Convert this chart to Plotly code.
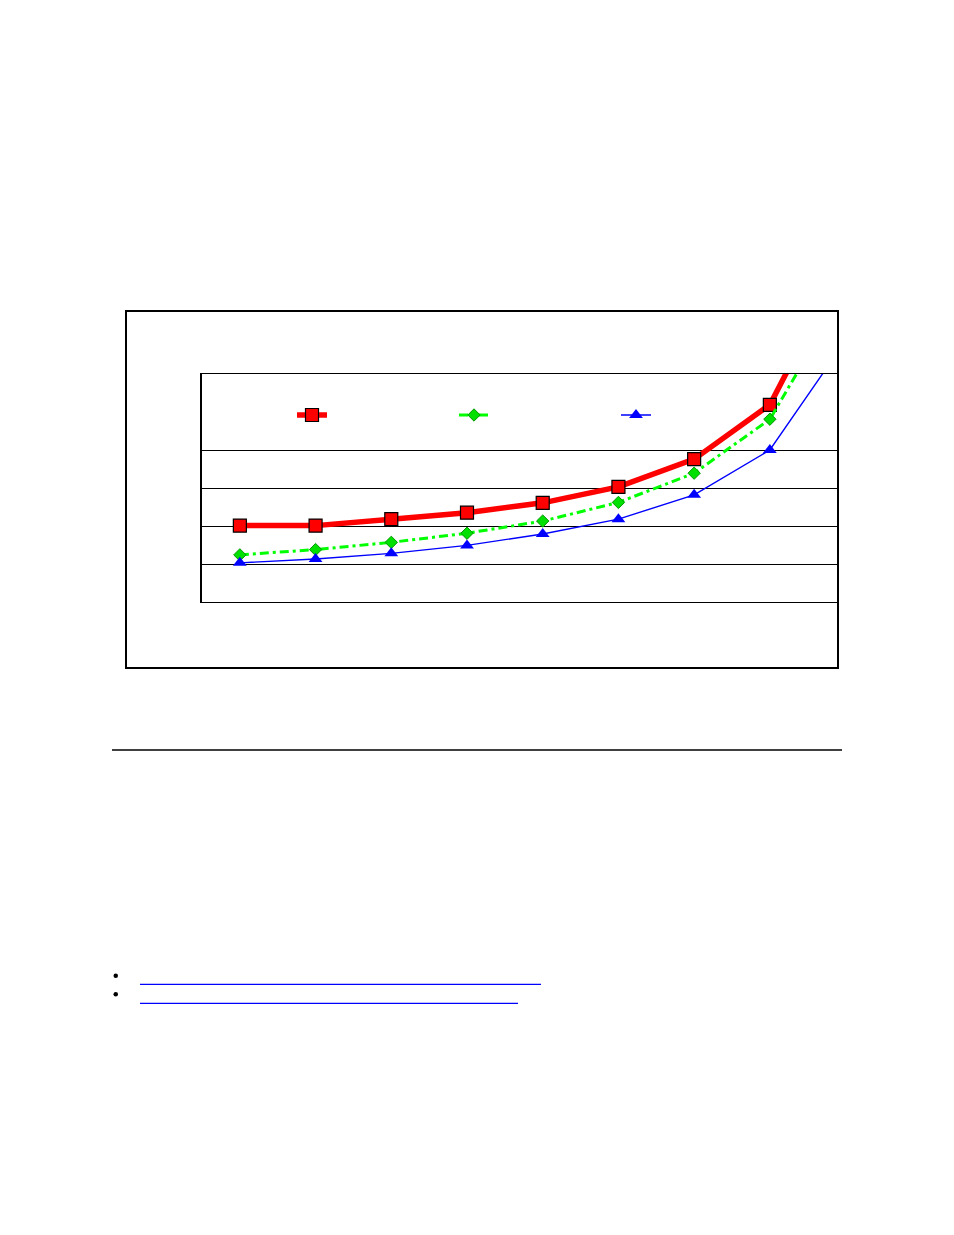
import plotly.graph_objects as go

W, H = 954, 1235
OFF = 8  # browser page margin

# ---- data (y units = gridline steps) ----
categories = [0, 1, 2, 3, 4, 5, 6, 7, 8]
series_a = [2.01, 2.01, 2.18, 2.35, 2.61, 3.03, 3.76, 5.19, 9.03]
series_b = [1.24, 1.38, 1.57, 1.81, 2.13, 2.62, 3.39, 4.81, 8.20]
series_c = [1.03, 1.13, 1.28, 1.49, 1.79, 2.18, 2.82, 4.00, 6.88]
grid_vals = [1, 2, 3, 4, 6]


def px_x(p):
    return (p - OFF) / W


def px_y(p):
    return 1 - (p - OFF) / H


fig = go.Figure()
fig.add_trace(go.Scatter(
    x=categories, y=series_a, mode="lines+markers", name=" ",
    line=dict(color="#FF0000", width=5.5),
    marker=dict(symbol="square", size=13, color="#FF0000",
                line=dict(color="#000000", width=1.2)),
))
fig.add_trace(go.Scatter(
    x=categories, y=series_b, mode="lines+markers", name=" ",
    line=dict(color="#00FF00", width=3, dash="9px,4px,3px,4px"),
    marker=dict(symbol="diamond", size=9.5, color="#00E000",
                line=dict(color="#009900", width=1)),
))
fig.add_trace(go.Scatter(
    x=categories, y=series_c, mode="lines+markers", name=" ",
    line=dict(color="#0000FF", width=1.4),
    marker=dict(symbol="triangle-up", size=12, color="#0000FF",
                line=dict(width=0)),
))

shapes = [
    # outer chart box
    dict(type="rect", xref="paper", yref="paper",
         x0=px_x(126), x1=px_x(838), y0=px_y(668), y1=px_y(311),
         line=dict(color="#000000", width=2), layer="above"),
    # horizontal rule below chart
    dict(type="line", xref="paper", yref="paper",
         x0=px_x(112), x1=px_x(842), y0=px_y(750), y1=px_y(750),
         line=dict(color="#000000", width=1.6)),
    # bullets
    dict(type="circle", xref="paper", yref="paper",
         x0=px_x(113.5), x1=px_x(118), y0=px_y(978), y1=px_y(973.5),
         fillcolor="#000000", line=dict(width=0)),
    dict(type="circle", xref="paper", yref="paper",
         x0=px_x(113.5), x1=px_x(118), y0=px_y(996.5), y1=px_y(992),
         fillcolor="#000000", line=dict(width=0)),
    # link underlines
    dict(type="line", xref="paper", yref="paper",
         x0=px_x(140), x1=px_x(541), y0=px_y(984.3), y1=px_y(984.3),
         line=dict(color="#0000FF", width=1.2)),
    dict(type="line", xref="paper", yref="paper",
         x0=px_x(140), x1=px_x(518), y0=px_y(1003.3), y1=px_y(1003.3),
         line=dict(color="#0000FF", width=1.2)),
]

fig.update_layout(
    width=W, height=H,
    margin=dict(l=0, r=0, t=0, b=0),
    paper_bgcolor="#FFFFFF", plot_bgcolor="#FFFFFF",
    font=dict(family="Liberation Sans, Arial, sans-serif", size=12, color="#000000"),
    showlegend=True,
    legend=dict(orientation="h", x=px_x(292), y=px_y(415), xanchor="left",
                yanchor="middle", bgcolor="rgba(0,0,0,0)",
                entrywidth=117, entrywidthmode="pixels",
                font=dict(size=12)),
    shapes=shapes,
    xaxis=dict(domain=[px_x(202), px_x(838)], range=[-0.5, 7.9],
               showgrid=False, zeroline=False, showticklabels=False,
               ticks="", showline=True, mirror=True,
               linecolor="#000000", linewidth=1.2),
    yaxis=dict(domain=[px_y(602), px_y(374)], range=[0, 6],
               tickvals=grid_vals, showticklabels=False, ticks="",
               showgrid=True, gridcolor="#000000", gridwidth=1.2,
               zeroline=False, showline=True, linecolor="#000000",
               linewidth=2.2),
)

fig.write_html("out.html")
